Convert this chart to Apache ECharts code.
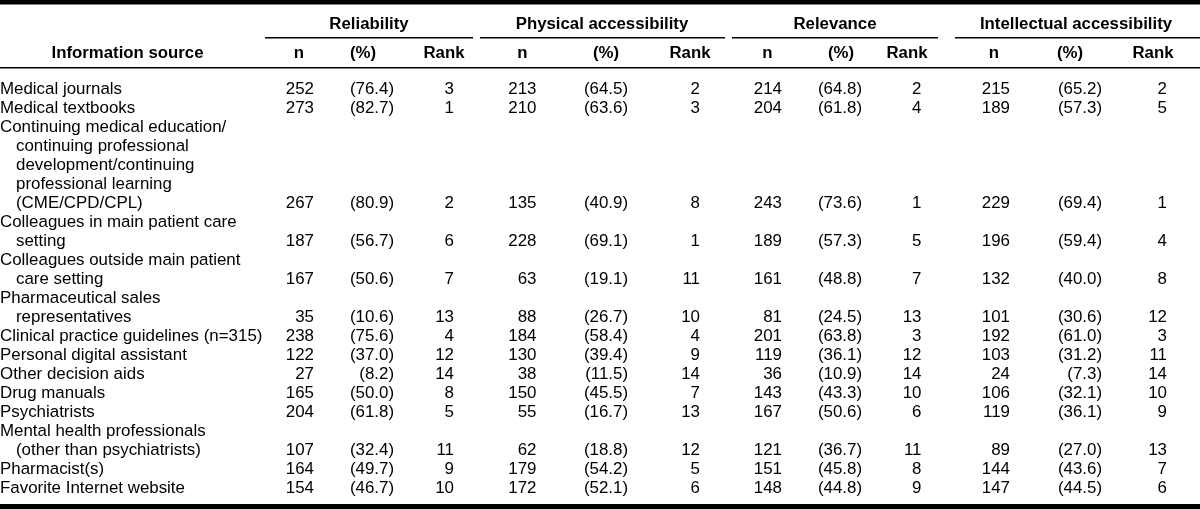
<!DOCTYPE html>
<html><head><meta charset="utf-8">
<script src="https://cdn.jsdelivr.net/npm/echarts@6/dist/echarts.min.js"></script>
<style>html,body{margin:0;padding:0;background:#fff}#c{width:1200px;height:509px}</style>
</head><body><div id="c"></div>
<script>
// ---- data ----
const rowHeader = 'Information source';
const groups = ['Reliability', 'Physical accessibility', 'Relevance', 'Intellectual accessibility'];
const subHeaders = ['n', '(%)', 'Rank'];
const sources = [
  ['Medical journals'],
  ['Medical textbooks'],
  ['Continuing medical education/', 'continuing professional', 'development/continuing', 'professional learning', '(CME/CPD/CPL)'],
  ['Colleagues in main patient care', 'setting'],
  ['Colleagues outside main patient', 'care setting'],
  ['Pharmaceutical sales', 'representatives'],
  ['Clinical practice guidelines (n=315)'],
  ['Personal digital assistant'],
  ['Other decision aids'],
  ['Drug manuals'],
  ['Psychiatrists'],
  ['Mental health professionals', '(other than psychiatrists)'],
  ['Pharmacist(s)'],
  ['Favorite Internet website']
];
const reliabilityN    = [252, 273, 267, 187, 167, 35, 238, 122, 27, 165, 204, 107, 164, 154];
const reliabilityPct  = [76.4, 82.7, 80.9, 56.7, 50.6, 10.6, 75.6, 37.0, 8.2, 50.0, 61.8, 32.4, 49.7, 46.7];
const reliabilityRank = [3, 1, 2, 6, 7, 13, 4, 12, 14, 8, 5, 11, 9, 10];
const physicalN       = [213, 210, 135, 228, 63, 88, 184, 130, 38, 150, 55, 62, 179, 172];
const physicalPct     = [64.5, 63.6, 40.9, 69.1, 19.1, 26.7, 58.4, 39.4, 11.5, 45.5, 16.7, 18.8, 54.2, 52.1];
const physicalRank    = [2, 3, 8, 1, 11, 10, 4, 9, 14, 7, 13, 12, 5, 6];
const relevanceN      = [214, 204, 243, 189, 161, 81, 201, 119, 36, 143, 167, 121, 151, 148];
const relevancePct    = [64.8, 61.8, 73.6, 57.3, 48.8, 24.5, 63.8, 36.1, 10.9, 43.3, 50.6, 36.7, 45.8, 44.8];
const relevanceRank   = [2, 4, 1, 5, 7, 13, 3, 12, 14, 10, 6, 11, 8, 9];
const intellectualN   = [215, 189, 229, 196, 132, 101, 192, 103, 24, 106, 119, 89, 144, 147];
const intellectualPct = [65.2, 57.3, 69.4, 59.4, 40.0, 30.6, 61.0, 31.2, 7.3, 32.1, 36.1, 27.0, 43.6, 44.5];
const intellectualRank= [2, 5, 1, 4, 8, 12, 3, 11, 14, 10, 9, 13, 7, 6];

const groupData = [
  [reliabilityN, reliabilityPct, reliabilityRank],
  [physicalN, physicalPct, physicalRank],
  [relevanceN, relevancePct, relevanceRank],
  [intellectualN, intellectualPct, intellectualRank]
];

// ---- layout ----
const W = 1200, H = 509;
const FONT = '"Liberation Sans", Arial, Helvetica, sans-serif';
const FS = 16.9, HFS = 16.8;
const groupHeadY = 24.8, subHeadY = 53.2;
const firstLineY = 88.9, lineH = 19.03;
const labelX = 0, indentX = 16;
const colRight = [[314, 394, 454], [536.5, 628, 700], [782, 862, 921.5], [1010, 1102, 1167]];
const subCenter = [[299, 363, 444], [522.5, 606, 690], [767.5, 841, 907], [994, 1070, 1153]];
const groupCenter = [369, 602, 835, 1076];
const groupRule = [[265, 473], [480, 725], [732, 938], [955, 1200]];
const rowHeaderCenter = 127.5;

// ---- build cells ----
const cells = [];
cells.push({x: rowHeaderCenter, y: subHeadY, text: rowHeader, align: 'center', bold: true});
groups.forEach((g, gi) => {
  cells.push({x: groupCenter[gi], y: groupHeadY, text: g, align: 'center', bold: true});
  subHeaders.forEach((s, si) => {
    cells.push({x: subCenter[gi][si], y: subHeadY, text: s, align: 'center', bold: true});
  });
});
let line = 0;
sources.forEach((lines, ri) => {
  lines.forEach((t, li) => {
    cells.push({x: li === 0 ? labelX : indentX, y: firstLineY + (line + li) * lineH, text: t, align: 'left', bold: false});
  });
  const lastY = firstLineY + (line + lines.length - 1) * lineH;
  groupData.forEach((arrs, gi) => {
    cells.push({x: colRight[gi][0], y: lastY, text: String(arrs[0][ri]), align: 'right'});
    cells.push({x: colRight[gi][1], y: lastY, text: '(' + arrs[1][ri].toFixed(1) + ')', align: 'right'});
    cells.push({x: colRight[gi][2], y: lastY, text: String(arrs[2][ri]), align: 'right'});
  });
  line += lines.length;
});

const rules = [[0, 0, W, 4.5], [0, 67, W, 68.4], [0, 504, W, H]];
groupRule.forEach(r => rules.push([r[0], 37, r[1], 38.4]));

const chart = echarts.init(document.getElementById('c'), null, {renderer: 'canvas'});
chart.setOption({
  animation: false,
  backgroundColor: '#fff',
  grid: {left: 0, right: 0, top: 0, bottom: 0},
  xAxis: {type: 'value', min: 0, max: W, show: false},
  yAxis: {type: 'value', min: 0, max: H, inverse: true, show: false},
  series: [
    {
      type: 'custom', silent: true, clip: false,
      data: rules,
      renderItem: (params, api) => {
        const p1 = api.coord([api.value(0), api.value(1)]);
        const p2 = api.coord([api.value(2), api.value(3)]);
        return {type: 'rect', shape: {x: p1[0], y: p1[1], width: p2[0] - p1[0], height: p2[1] - p1[1]}, style: {fill: '#000'}};
      }
    },
    {
      type: 'custom', silent: true, clip: false,
      data: cells.map(c => [c.x, c.y]),
      renderItem: (params, api) => {
        const c = cells[params.dataIndex];
        const p = api.coord([api.value(0), api.value(1)]);
        return {
          type: 'text', x: p[0], y: p[1],
          style: {
            text: c.text, fill: '#000',
            font: (c.bold ? 'bold ' + HFS : FS) + 'px ' + FONT,
            textAlign: c.align, textVerticalAlign: 'middle'
          }
        };
      }
    }
  ]
});
</script></body></html>
